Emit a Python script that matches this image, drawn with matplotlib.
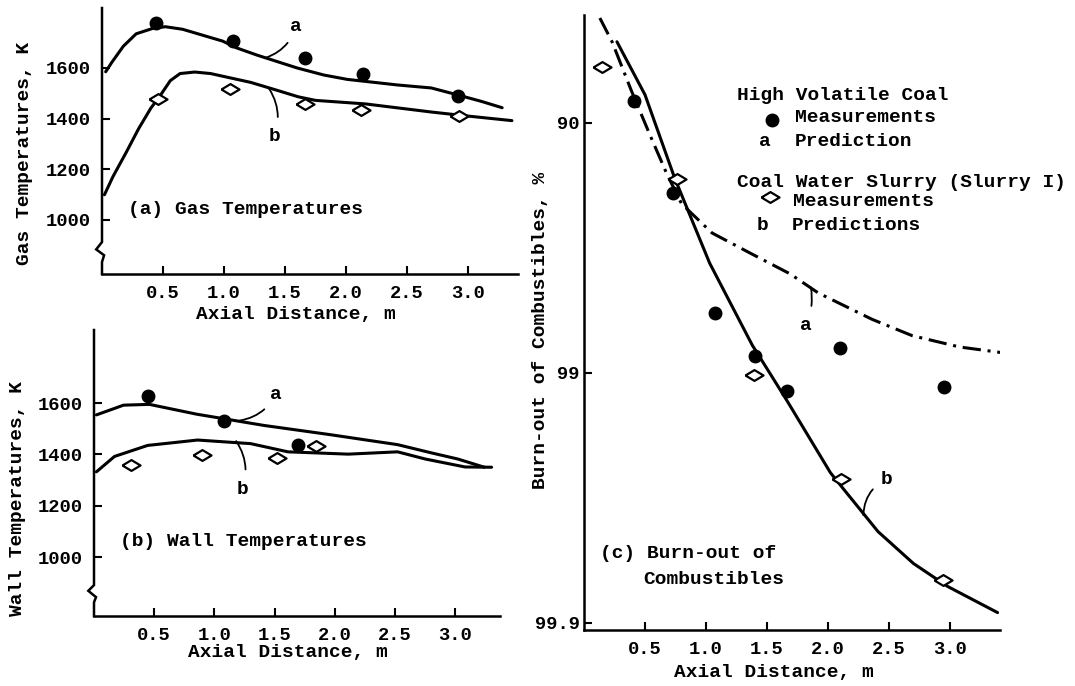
import numpy as np
import matplotlib
matplotlib.use("Agg")
import matplotlib.pyplot as plt
from matplotlib.ticker import FixedLocator, FixedFormatter, NullLocator

plt.rcParams["font.family"] = ["Liberation Mono", "DejaVu Sans Mono"]
plt.rcParams["font.weight"] = "bold"

# (a) gas temperatures, K
gas_meas_x = [0.44, 1.07, 1.66, 2.14, 2.92]
gas_coal_meas = [1777, 1707, 1640, 1577, 1489]
gas_slurry_x = [0.46, 1.05, 1.66, 2.12, 2.93]
gas_slurry_meas = [1477, 1517, 1459, 1434, 1410]
gas_pred_a_x = [0.03, 0.08, 0.175, 0.28, 0.42, 0.52, 0.66, 0.99, 1.10, 1.27,
                1.60, 1.82, 2.01, 2.42, 2.70, 2.92, 3.11, 3.28]
gas_pred_a = [1585, 1622, 1686, 1735, 1757, 1763, 1753, 1706, 1680, 1651,
              1600, 1572, 1555, 1533, 1521, 1493, 1468, 1443]
gas_pred_b_x = [0.02, 0.09, 0.20, 0.30, 0.40, 0.48, 0.56, 0.64, 0.76, 0.89,
                1.05, 1.22, 1.42, 1.61, 1.75, 2.16, 2.70, 2.98, 3.36]
gas_pred_b = [1099, 1171, 1268, 1360, 1441, 1493, 1550, 1578, 1584, 1578,
              1561, 1543, 1514, 1486, 1472, 1458, 1426, 1411, 1392]

# (b) wall temperatures, K
wall_meas_x = [0.45, 1.08, 1.69]
wall_coal_meas = [1626, 1532, 1435]
wall_slurry_x = [0.31, 0.90, 1.52, 1.84]
wall_slurry_meas = [1359, 1398, 1386, 1433]
wall_pred_a_x = [0.02, 0.245, 0.46, 0.85, 1.41, 1.96, 2.52, 2.80, 3.02, 3.24]
wall_pred_a = [1554, 1592, 1595, 1557, 1513, 1477, 1438, 1406, 1382, 1350]
wall_pred_b_x = [0.02, 0.17, 0.445, 0.86, 1.30, 1.61, 2.11, 2.52, 2.75, 3.08, 3.30]
wall_pred_b = [1332, 1392, 1435, 1456, 1442, 1410, 1401, 1410, 1382, 1351, 1350]

# (c) burn-out of combustibles, %
burn_coal_x = [0.41, 0.73, 1.07, 1.40, 1.66, 2.10, 2.95]
burn_coal = [87.75, 94.75, 98.26, 98.83, 99.15, 98.74, 99.12]
burn_slurry_x = [0.145, 0.76, 1.39, 2.11, 2.94]
burn_slurry = [83.25, 94.03, 99.02, 99.625, 99.851]
burn_pred_a_x = [0.13, 0.23, 0.39, 0.54, 0.68, 0.80, 1.05, 1.36, 1.69, 1.92,
                 2.36, 2.69, 3.08, 3.43]
burn_pred_a = [73.7, 78.87, 86.6, 91.03, 93.76, 95.25, 96.37, 96.98, 97.51, 97.91,
               98.36, 98.59, 98.73, 98.795]
burn_pred_b_x = [0.27, 0.50, 0.74, 0.83, 1.03, 1.38, 1.53, 1.67, 2.02, 2.13,
                 2.41, 2.70, 2.98, 3.39]
burn_pred_b = [78.87, 87.03, 93.92, 95.25, 97.25, 98.71, 99.014, 99.234, 99.601, 99.658,
               99.768, 99.827, 99.860, 99.890]

dist_ticks = [0.5, 1.0, 1.5, 2.0, 2.5, 3.0]
temp_ticks = [1000, 1200, 1400, 1600]
burn_ticks = [90, 99, 99.9]
burn_tick_labels = ["90", "99", "99.9"]

DIAMOND = [(-1, 0), (0, 0.6), (1, 0), (0, -0.6), (-1, 0)]
LW = 2.2
FS = 14
W, H = 1075, 686


def fig_text(px, py, s, **kw):
    # place free text by reference pixel position
    kw.setdefault("ha", "left")
    kw.setdefault("va", "center")
    fig.text(px / W, 1 - py / H, s, fontsize=FS, **kw)


def style_axes(ax, broken=False, zig=(0.11, 0.04)):
    ax.spines["top"].set_visible(False)
    ax.spines["right"].set_visible(False)
    ax.spines["bottom"].set_linewidth(1.8)
    ax.spines["left"].set_linewidth(1.8)
    ax.tick_params(axis="both", direction="in", length=6, width=1.5,
                   labelsize=13.5)
    ax.tick_params(axis="x", pad=8)
    ax.tick_params(axis="y", pad=8)
    ax.set_xticks(dist_ticks)
    ax.set_xticklabels([f"{t:.1f}" for t in dist_ticks])
    if broken:
        # left axis drawn by hand with a break mark near the bottom
        ax.spines["left"].set_visible(False)
        top, bot = zig
        mid = (top + bot) / 2
        ax.plot([0, 0, -0.014, 0.005, 0, 0],
                [1, top, mid + 0.01, mid - 0.012, bot, 0],
                color="black", lw=1.8, transform=ax.transAxes,
                clip_on=False, solid_joinstyle="miter")


def draw_temp(ax, mx, coal, sx, slurry, ax_, a, bx, b):
    ax.plot(ax_, a, color="black", lw=LW, solid_capstyle="round",
            solid_joinstyle="round")
    ax.plot(bx, b, color="black", lw=LW, solid_capstyle="round",
            solid_joinstyle="round")
    ax.plot(mx, coal, "o", color="black", ms=9, zorder=5)
    ax.plot(sx, slurry, ls="none", marker=DIAMOND, ms=13, mfc="white",
            mec="black", mew=1.6, zorder=5)


def label_curve(ax, s, xy, xytext, rad, shrink=5):
    ax.annotate(s, xy=xy, xytext=xytext, fontsize=FS, ha="center", va="center",
                arrowprops=dict(arrowstyle="-", lw=1.3, shrinkA=shrink, shrinkB=0,
                                connectionstyle=f"arc3,rad={rad}"))


fig = plt.figure(figsize=(W / 100, H / 100), dpi=100)

# panel (a)
ax_a = fig.add_axes([102 / W, 1 - 274 / H, 416 / W, 266 / H])
draw_temp(ax_a, gas_meas_x, gas_coal_meas, gas_slurry_x, gas_slurry_meas,
          gas_pred_a_x, gas_pred_a, gas_pred_b_x, gas_pred_b)
ax_a.set_xlim(0, 3.41)
ax_a.set_ylim(786, 1837)
style_axes(ax_a, broken=True, zig=(0.12, 0.045))
ax_a.set_yticks(temp_ticks)
label_curve(ax_a, "a", (1.34, 1640), (1.59, 1762), -0.25, 4)
label_curve(ax_a, "b", (1.37, 1518), (1.41, 1329), 0.25, 6)

# panel (b)
ax_b = fig.add_axes([94 / W, 1 - 616 / H, 406 / W, 286 / H])
draw_temp(ax_b, wall_meas_x, wall_coal_meas, wall_slurry_x, wall_slurry_meas,
          wall_pred_a_x, wall_pred_a, wall_pred_b_x, wall_pred_b)
ax_b.set_xlim(0, 3.37)
ax_b.set_ylim(770, 1885)
style_axes(ax_b, broken=True, zig=(0.108, 0.048))
ax_b.set_yticks(temp_ticks)
label_curve(ax_b, "a", (1.21, 1532), (1.51, 1635), -0.25, 4)
label_curve(ax_b, "b", (1.18, 1452), (1.23, 1265), 0.25, 6)


# panel (c): burn-out on a log scale of the unburnt fraction
def fwd(b):
    return -np.log10(np.clip(100.0 - np.asarray(b, dtype=float), 1e-6, None))


def inv(u):
    return 100.0 - 10.0 ** (-np.asarray(u, dtype=float))


ax_c = fig.add_axes([584 / W, 1 - 630 / H, 416 / W, 615 / H])
ax_c.set_yscale("function", functions=(fwd, inv))
ax_c.plot(burn_pred_a_x, burn_pred_a, color="black", lw=LW,
          ls=(0, (6, 2.2, 1, 2.2)))
ax_c.plot(burn_pred_b_x, burn_pred_b, color="black", lw=LW,
          solid_capstyle="round", solid_joinstyle="round")
ax_c.plot(burn_coal_x, burn_coal, "o", color="black", ms=9, zorder=5)
ax_c.plot(burn_slurry_x, burn_slurry, ls="none", marker=DIAMOND, ms=13,
          mfc="white", mec="black", mew=1.6, zorder=5)
ax_c.set_xlim(0, 3.41)
ax_c.set_ylim(99.9063, 72.96)
style_axes(ax_c)
ax_c.yaxis.set_major_locator(FixedLocator(burn_ticks))
ax_c.yaxis.set_major_formatter(FixedFormatter(burn_tick_labels))
ax_c.yaxis.set_minor_locator(NullLocator())
ax_c.tick_params(axis="y", pad=3)
label_curve(ax_c, "a", (1.86, 97.8), (1.82, 98.45), 0.15, 6)
label_curve(ax_c, "b", (2.29, 99.73), (2.48, 99.624), 0.3, 5)

# axis titles and panel captions
fig_text(25, 153, "Gas Temperatures, K", rotation=90, ha="center")
fig_text(296, 315, "Axial Distance, m", ha="center")
fig_text(128, 209, "(a) Gas Temperatures")
fig_text(18, 498, "Wall Temperatures, K", rotation=90, ha="center")
fig_text(288, 653, "Axial Distance, m", ha="center")
fig_text(120, 542, "(b) Wall Temperatures")
fig_text(541, 330, "Burn-out of Combustibles, %", rotation=90, ha="center")
fig_text(774, 673, "Axial Distance, m", ha="center")
fig_text(600, 553, "(c) Burn-out of")
fig_text(643, 579, "Combustibles")

# legend block
fig_text(737, 95, "High Volatile Coal")
ax_c.plot([772 / W], [1 - 120 / H], "o", color="black", ms=9,
          transform=fig.transFigure, clip_on=False)
fig_text(795, 118, "Measurements")
fig_text(765, 142, "a", ha="center")
fig_text(795, 142, "Prediction")
fig_text(737, 182, "Coal Water Slurry (Slurry I)")
ax_c.plot([770 / W], [1 - 197 / H], ls="none", marker=DIAMOND, ms=13,
          mfc="white", mec="black", mew=1.6, transform=fig.transFigure,
          clip_on=False)
fig_text(793, 202, "Measurements")
fig_text(762, 225, "b", ha="center")
fig_text(792, 225, "Predictions")

fig.savefig("out.png", dpi=100)
